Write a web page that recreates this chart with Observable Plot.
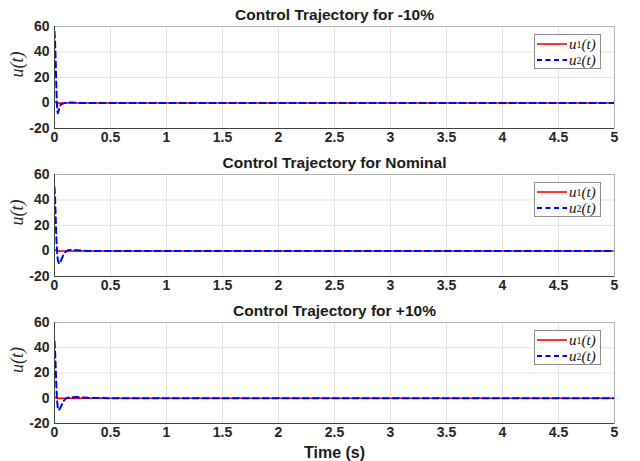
<!DOCTYPE html>
<html>
<head>
<meta charset="utf-8">
<script src="https://cdn.jsdelivr.net/npm/d3@7"></script>
<script src="https://cdn.jsdelivr.net/npm/@observablehq/plot@0.6"></script>
<style>
  body { margin: 0; background: #fff; }
  #wrap { position: relative; width: 640px; height: 461px; overflow: hidden; }
  .panel { position: absolute; left: 0; }
  .legend { position: absolute; left: 534px; width: 67px; height: 35px; border: 1px solid #8c8c8c; background: #fff; box-sizing: border-box; }
  .legend .row { position: absolute; left: 2px; height: 16px; display: flex; align-items: center; font-family: "Liberation Serif", "DejaVu Serif", serif; font-style: italic; font-size: 15px; color: #111; }
  .legend svg { margin-right: 2px; }
  sub { font-style: normal; font-size: 10px; vertical-align: -3px; }
</style>
</head>
<body>
<div id="wrap"></div>
<script>
// Time samples (s)
const time = [0, 0.005, 0.01, 0.015, 0.02, 0.025, 0.03, 0.04, 0.05, 0.06, 0.08, 0.1, 0.12, 0.15, 0.2, 0.25, 0.3, 0.5, 1, 2, 3, 4, 5];

// -10% case
const u1Minus = [1.0, 0.8, 0.6, 0.4, 0.2, 0.1, 0, -0.1, -0.1, 0, 0, 0, 0, 0, 0, 0, 0, 0, 0, 0, 0, 0, 0];
const u2Minus = [56, 48, 35, 18, 2, -6, -8, -5, -2, -1, -0.3, 0.2, 0.4, 0.3, 0.1, 0, 0, 0, 0, 0, 0, 0, 0];

// Nominal case
const u1Nom = [1.0, 0.8, 0.6, 0.4, 0.2, 0.1, 0, -0.1, -0.1, 0, 0, 0, 0, 0, 0, 0, 0, 0, 0, 0, 0, 0, 0];
const u2Nom = [50, 42, 28, 14, 4, -3, -7, -10, -9, -7, -3, -0.5, 0.5, 0.8, 0.5, 0.2, 0, 0, 0, 0, 0, 0, 0];

// +10% case
const u1Plus = [1.0, 0.8, 0.6, 0.4, 0.2, 0.1, 0, -0.1, -0.1, 0, 0, 0, 0, 0, 0, 0, 0, 0, 0, 0, 0, 0, 0];
const u2Plus = [45, 38, 26, 13, 3, -4, -8, -9.5, -8, -6, -2.5, -0.3, 0.5, 0.8, 1, 0.6, 0.3, 0, 0, 0, 0, 0, 0];

const titles = ["Control Trajectory for -10%", "Control Trajectory for Nominal", "Control Trajectory for +10%"];
const xTicks = [0, 0.5, 1, 1.5, 2, 2.5, 3, 3.5, 4, 4.5, 5];
const yTicks = [-20, 0, 20, 40, 60];
const xLabel = "Time (s)";
const yLabel = "u(t)";

const cases = [
  {u1: u1Minus, u2: u2Minus},
  {u1: u1Nom, u2: u2Nom},
  {u1: u1Plus, u2: u2Plus}
];

const layout = [
  {top: 0, height: 147, mt: 26, mb: 19},
  {top: 147, height: 148, mt: 27, mb: 19},
  {top: 295, height: 166, mt: 27, mb: 38}
];

const wrap = document.getElementById("wrap");

cases.forEach((c, i) => {
  const L = layout[i];
  const d1 = time.map((t, k) => ({t, v: c.u1[k]}));
  const d2 = time.map((t, k) => ({t, v: c.u2[k]}));
  const marks = [
    Plot.gridX(xTicks, {stroke: "#e3e3e3", strokeOpacity: 1}),
    Plot.gridY(yTicks, {stroke: "#e3e3e3", strokeOpacity: 1}),
    Plot.frame({stroke: "#b0b0b0"}),
    Plot.line(d1, {x: "t", y: "v", stroke: "#ff0000", strokeWidth: 1.6, clip: true}),
    Plot.line(d2, {x: "t", y: "v", stroke: "#0000ff", strokeWidth: 2, strokeDasharray: "6,4", clip: true}),
    Plot.ruleX([0], {stroke: "#404040", strokeWidth: 1}),
    Plot.ruleY([-20], {stroke: "#404040", strokeWidth: 1}),
    Plot.axisX(xTicks, {tickSize: 0, tickPadding: 4, tickFormat: d => String(d), fill: "#262626", label: null}),
    Plot.axisY(yTicks, {tickSize: 0, tickPadding: 5, tickFormat: d => String(d), fill: "#262626", label: null}),
    Plot.text([titles[i]], {frameAnchor: "top", lineAnchor: "middle", dy: -11, fontSize: 15.5, fontWeight: "bold", fill: "#1a1a1a"}),
    Plot.text([yLabel], {frameAnchor: "left", rotate: -90, dx: -37, fontSize: 18, fontStyle: "italic", fontWeight: "normal", fontFamily: "Liberation Serif, DejaVu Serif, serif", fill: "#262626"})
  ];
  if (i === 2) {
    marks.push(Plot.text([xLabel], {frameAnchor: "bottom", lineAnchor: "middle", dy: 29, fontSize: 16, fontWeight: "bold", fill: "#1a1a1a"}));
  }
  const p = Plot.plot({
    width: 640,
    height: L.height,
    marginLeft: 54,
    marginRight: 26,
    marginTop: L.mt,
    marginBottom: L.mb,
    x: {domain: [0, 5], axis: null},
    y: {domain: [-20, 60], axis: null},
    style: {fontFamily: "Liberation Sans, Arial, sans-serif", fontSize: "14px", fontWeight: "bold", background: "transparent", overflow: "visible"},
    marks
  });
  p.classList.add("panel");
  p.style.top = L.top + "px";
  wrap.appendChild(p);

  const lg = document.createElement("div");
  lg.className = "legend";
  lg.style.top = (L.top + L.mt + 8) + "px";
  lg.innerHTML =
    '<div class="row" style="top:1px"><svg width="30" height="6"><line x1="0" y1="3" x2="30" y2="3" stroke="#ff0000" stroke-width="1.6"/></svg>u<sub>1</sub>(t)</div>' +
    '<div class="row" style="top:17px"><svg width="30" height="6"><line x1="0" y1="3" x2="30" y2="3" stroke="#0000ff" stroke-width="2" stroke-dasharray="5,3.5"/></svg>u<sub>2</sub>(t)</div>';
  wrap.appendChild(lg);
});
</script>
</body>
</html>
